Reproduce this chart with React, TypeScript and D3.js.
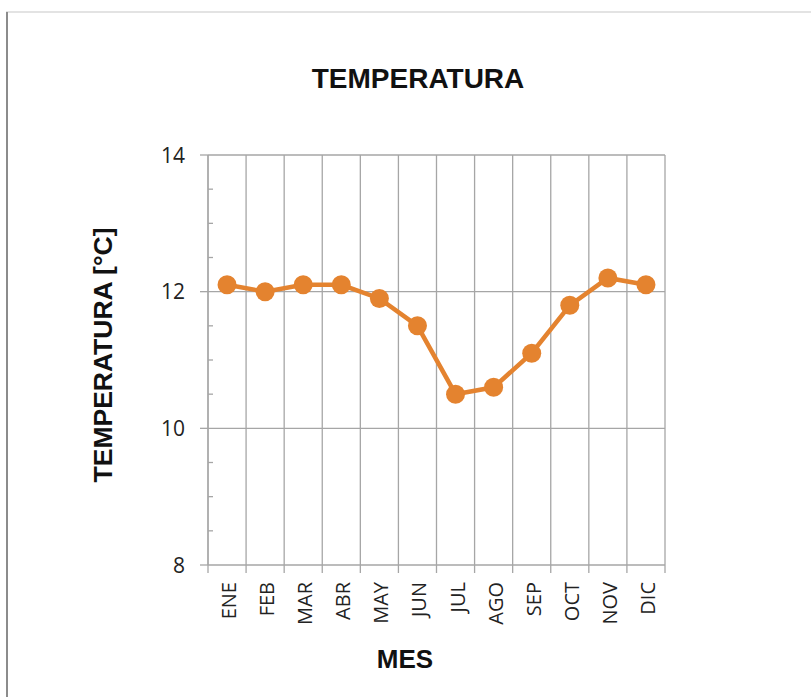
import React from "react";
import * as d3 from "d3";

const months = ["ENE", "FEB", "MAR", "ABR", "MAY", "JUN", "JUL", "AGO", "SEP", "OCT", "NOV", "DIC"];
const temps = [12.1, 12.0, 12.1, 12.1, 11.9, 11.5, 10.5, 10.6, 11.1, 11.8, 12.2, 12.1];
const yMajorTicks = [8, 10, 12, 14];
const yMinorTicks = [8.5, 9, 9.5, 10.5, 11, 11.5, 12.5, 13, 13.5];

const W = 811;
const H = 697;
const left = 208;
const right = 665;
const top = 155;
const bottom = 565;
const orange = "#E4832F";
const grid = "#A6A6A6";

export default function App() {
  const x = d3.scaleBand<string>().domain(months).range([left, right]).padding(0);
  const y = d3.scaleLinear().domain([8, 14]).range([bottom, top]);
  const line = d3
    .line<number>()
    .x((_, i) => (x(months[i]) as number) + x.bandwidth() / 2)
    .y((d) => y(d));
  const bounds = d3.range(months.length + 1).map((i) => left + i * x.bandwidth());

  return (
    <svg
      width={W}
      height={H}
      style={{ position: "absolute", left: 0, top: 0, background: "#fff" }}
    >
      {/* frame */}
      <line x1={6} y1={12} x2={W} y2={12} stroke="#DADADA" strokeWidth={1.5} />
      <line x1={7} y1={12} x2={7} y2={H} stroke="#8C8C8C" strokeWidth={2} />

      {/* title */}
      <text
        x={418}
        y={88}
        textAnchor="middle"
        fontFamily="Liberation Sans, Arial, sans-serif"
        fontWeight="bold"
        fontSize={28}
        fill="#111"
      >
        TEMPERATURA
      </text>

      {/* horizontal gridlines */}
      {[10, 12, 14].map((v) => (
        <line key={"h" + v} x1={left} x2={right} y1={y(v)} y2={y(v)} stroke={grid} strokeWidth={1.3} />
      ))}
      {/* vertical gridlines / category boundaries */}
      {bounds.map((bx, i) => (
        <line key={"v" + i} x1={bx} x2={bx} y1={top} y2={bottom + 8} stroke={grid} strokeWidth={1.3} />
      ))}
      {/* axes */}
      <line x1={left} x2={right} y1={bottom} y2={bottom} stroke={grid} strokeWidth={1.3} />
      <line x1={left} x2={left} y1={top} y2={bottom} stroke={grid} strokeWidth={1.3} />
      {yMajorTicks.map((v) => (
        <line key={"mt" + v} x1={left - 8} x2={left} y1={y(v)} y2={y(v)} stroke={grid} strokeWidth={1.3} />
      ))}
      {yMinorTicks.map((v) => (
        <line key={"mn" + v} x1={left} x2={left + 5} y1={y(v)} y2={y(v)} stroke={grid} strokeWidth={1.3} />
      ))}

      {/* y tick labels */}
      {yMajorTicks.map((v) => (
        <text
          key={"yl" + v}
          x={left - 23}
          y={y(v) + 7.5}
          textAnchor="end"
          fontFamily="Open Sans, Liberation Sans, sans-serif"
          fontSize={21}
          fill="#222"
        >
          {v}
        </text>
      ))}

      {/* x tick labels */}
      {months.map((m) => {
        const cx = (x(m) as number) + x.bandwidth() / 2;
        return (
          <text
            key={"xl" + m}
            transform={`translate(${cx + 9},${bottom + 17}) rotate(-90)`}
            textAnchor="end"
            fontFamily="Open Sans, Liberation Sans, sans-serif"
            fontSize={20}
            fill="#222"
          >
            {m}
          </text>
        );
      })}

      {/* axis titles */}
      <text
        transform={`translate(${112},${355}) rotate(-90)`}
        textAnchor="middle"
        fontFamily="Liberation Sans, Arial, sans-serif"
        fontWeight="bold"
        fontSize={26.5}
        fill="#111"
      >
        TEMPERATURA [°C]
      </text>
      <text
        x={405}
        y={668}
        textAnchor="middle"
        fontFamily="Liberation Sans, Arial, sans-serif"
        fontWeight="bold"
        fontSize={26}
        fill="#111"
      >
        MES
      </text>

      {/* series */}
      <path d={line(temps) || ""} fill="none" stroke={orange} strokeWidth={4.5} />
      {temps.map((t, i) => (
        <circle
          key={"p" + i}
          cx={(x(months[i]) as number) + x.bandwidth() / 2}
          cy={y(t)}
          r={9.5}
          fill={orange}
        />
      ))}
    </svg>
  );
}
